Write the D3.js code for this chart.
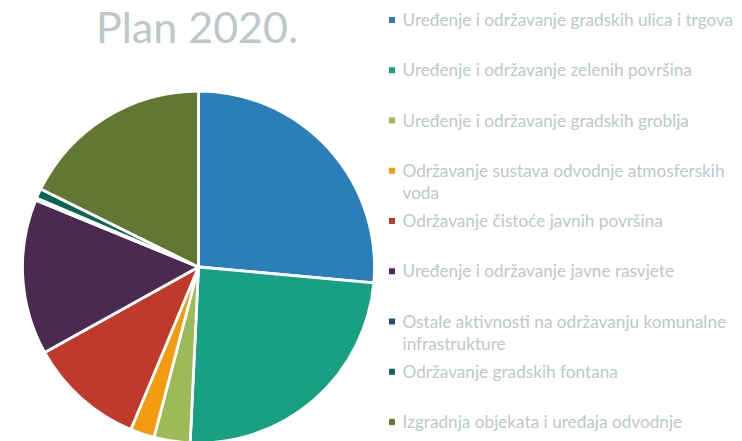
<!DOCTYPE html>
<html>
<head>
<meta charset="utf-8">
<script src="https://cdn.jsdelivr.net/npm/d3@7"></script>
<style>
	html, body { margin: 0; padding: 0; background: #fff; }
	svg { display: block; }
</style>
</head>
<body>
<div id="root"></div>
<script>
// categories (legend lines), shares in percent, colours
const categories = [
	['Uređenje i održavanje gradskih ulica i trgova'],
	['Uređenje i održavanje zelenih površina'],
	['Uređenje i održavanje gradskih groblja'],
	['Održavanje sustava odvodnje atmosferskih', 'voda'],
	['Održavanje čistoće javnih površina'],
	['Uređenje i održavanje javne rasvjete'],
	['Ostale aktivnosti na održavanju komunalne', 'infrastrukture'],
	['Održavanje gradskih fontana'],
	['Izgradnja objekata i uređaja odvodnje']
]
const values = [26.3, 24.2, 3.3, 2.2, 10.6, 14.2, 0.2, 0.9, 17.6]
const colors = ['#2b7fb8', '#18a085', '#9cbb58', '#f39c12', '#c0392b', '#4b2a52', '#1d4f73', '#0b6552', '#627832']
const title = 'Plan 2020.'

const W = 742, H = 441
const textColor = '#bcc8c9'
const font = 'Lato, "Open Sans", sans-serif'

const svg = d3.select('#root').append('svg')
	.attr('width', W)
	.attr('height', H)

const data = values.map((v, i) => ({ value: v, name: categories[i], color: colors[i] }))

// pie
const radius = 176
const pieG = svg.append('g')
	.attr('transform', `translate(198.5,267)`)

const pie = d3.pie()
	.sort(null)
	.value(d => d.value)

const arc = d3.arc()
	.innerRadius(0)
	.outerRadius(radius)

pieG.selectAll('path')
	.data(pie(data))
	.enter()
	.append('path')
	.attr('d', arc)
	.attr('fill', d => d.data.color)
	.attr('stroke', '#fff')
	.attr('stroke-width', 2.8)
	.attr('stroke-linejoin', 'round')

// title
svg.append('text')
	.attr('x', 96)
	.attr('y', 43)
	.attr('font-family', font)
	.attr('font-size', 43)
	.attr('fill', textColor)
	.text(title)

// legend
const yRow = d3.scaleLinear()
	.domain([0, categories.length - 1])
	.range([20, 422])

const legend = svg.append('g')
	.selectAll('.item')
	.data(data)
	.enter()
	.append('g')
	.attr('class', 'item')
	.attr('transform', (d, i) => `translate(389,${yRow(i)})`)

legend.append('rect')
	.attr('x', 0)
	.attr('y', -3)
	.attr('width', 6)
	.attr('height', 6)
	.attr('fill', d => d.color)

legend.append('text')
	.attr('font-family', font)
	.attr('font-size', 17.2)
	.attr('fill', textColor)
	.selectAll('tspan')
	.data(d => d.name)
	.enter()
	.append('tspan')
	.attr('x', 13.5)
	.attr('y', (d, i) => i * 22.5)
	.attr('dy', '0.35em')
	.text(d => d)
</script>
</body>
</html>
